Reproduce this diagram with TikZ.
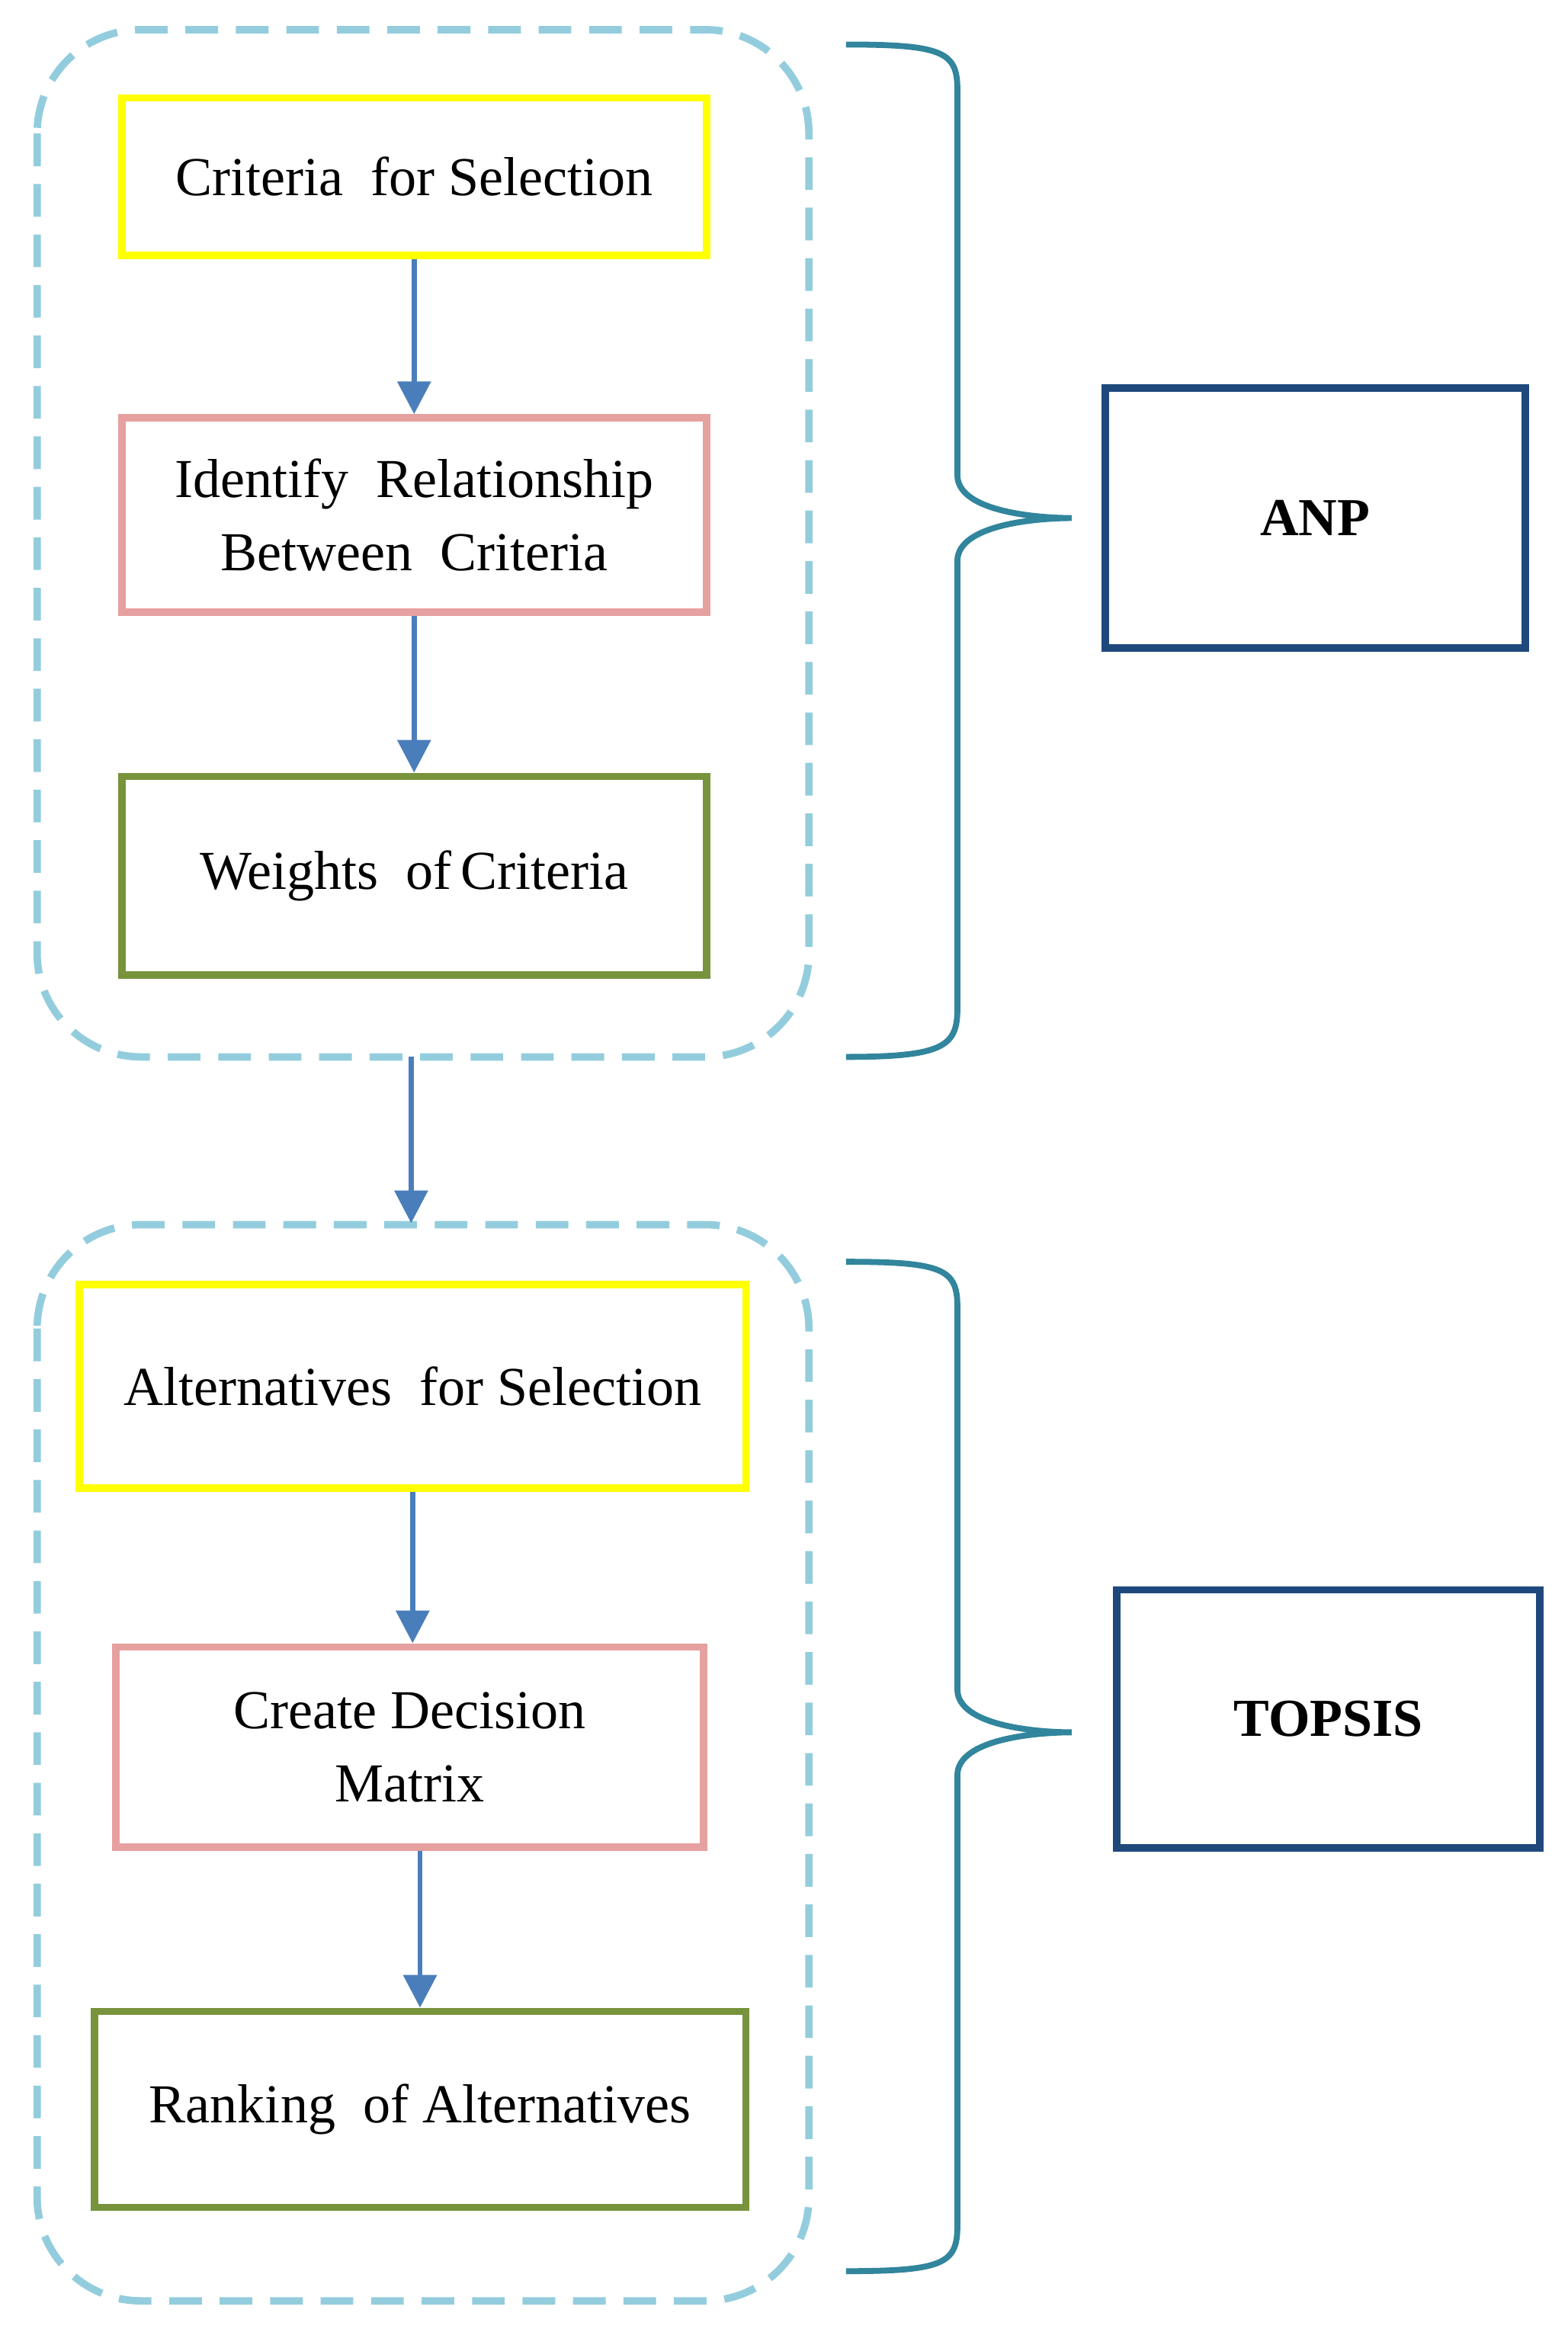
\documentclass[tikz,border=0pt]{standalone}
\usepackage{fontspec}
\setmainfont{Liberation Serif}
\usetikzlibrary{arrows.meta}
\definecolor{dash}{HTML}{93CDDD}
\definecolor{ylw}{HTML}{FFFF00}
\definecolor{pnk}{HTML}{E6A09F}
\definecolor{grn}{HTML}{77933C}
\definecolor{arr}{HTML}{4A7EBB}
\definecolor{brc}{HTML}{31859C}
\definecolor{dkb}{HTML}{1F497D}
\begin{document}
\begin{tikzpicture}[x=1pt,y=-1pt,
  box/.style={draw,line width=5pt,minimum height=#1,align=center,font=\fontsize{37}{49}\selectfont,inner sep=0pt},
  cont/.style={draw=dash,line width=5pt,dash pattern=on 22pt off 12pt,rounded corners=70pt},
  ar/.style={draw=arr,line width=3.5pt,-{Triangle[length=22pt,width=22pt]}},
  br/.style={draw=brc,line width=4pt},
  lab/.style={draw=dkb,line width=5pt,font=\fontsize{36}{40}\selectfont\bfseries,inner sep=0pt}]
\useasboundingbox (0,0) rectangle (1056,1571);
\draw[cont] (25,20) rectangle (545,712);
\draw[cont] (25,825) rectangle (545,1550);
\node[box=106pt,draw=ylw,minimum width=394pt] (b1) at (279,119) {Criteria\ \ for Selection};
\node[box=131pt,draw=pnk,minimum width=394pt] (b2) at (279,347) {Identify\ \ Relationship\\ Between\ \ Criteria};
\node[box=134pt,draw=grn,minimum width=394pt] (b3) at (279,590) {Weights\ \ of\,Criteria};
\node[box=137pt,draw=ylw,minimum width=449pt] (b4) at (278,934) {Alternatives\ \ for Selection};
\node[box=135pt,draw=pnk,minimum width=396pt] (b5) at (276,1177) {Create Decision\\ Matrix};
\node[box=132pt,draw=grn,minimum width=439pt] (b6) at (283,1421) {Ranking\ \ of Alternatives};
\coordinate (c1) at (277,712);
\coordinate (c2) at (277,824);
\draw[ar] (b1.south) -- (b1.south |- b2.north);
\draw[ar] (b2.south) -- (b2.south |- b3.north);
\draw[ar] (c1) -- (c2);
\draw[ar] (b4.south) -- (b4.south |- b5.north);
\draw[ar] (b6.north |- b5.south) -- (b6.north);
\node[lab,minimum width=283pt,minimum height=175pt] (anp) at (886,349) {ANP};
\node[lab,minimum width=285pt,minimum height=174pt] (top) at (895,1158) {TOPSIS};
\draw[br] (570,30) .. controls (635,30) and (645,35) .. (645,60) -- (645,320)
  .. controls (645,345) and (700,349) .. (722,349)
  .. controls (700,349) and (645,353) .. (645,378) -- (645,680)
  .. controls (645,705) and (635,712) .. (570,712);
\draw[br] (570,850) .. controls (635,850) and (645,855) .. (645,880) -- (645,1138)
  .. controls (645,1163) and (700,1167) .. (722,1167)
  .. controls (700,1167) and (645,1171) .. (645,1196) -- (645,1500)
  .. controls (645,1525) and (635,1530) .. (570,1530);
\end{tikzpicture}
\end{document}
